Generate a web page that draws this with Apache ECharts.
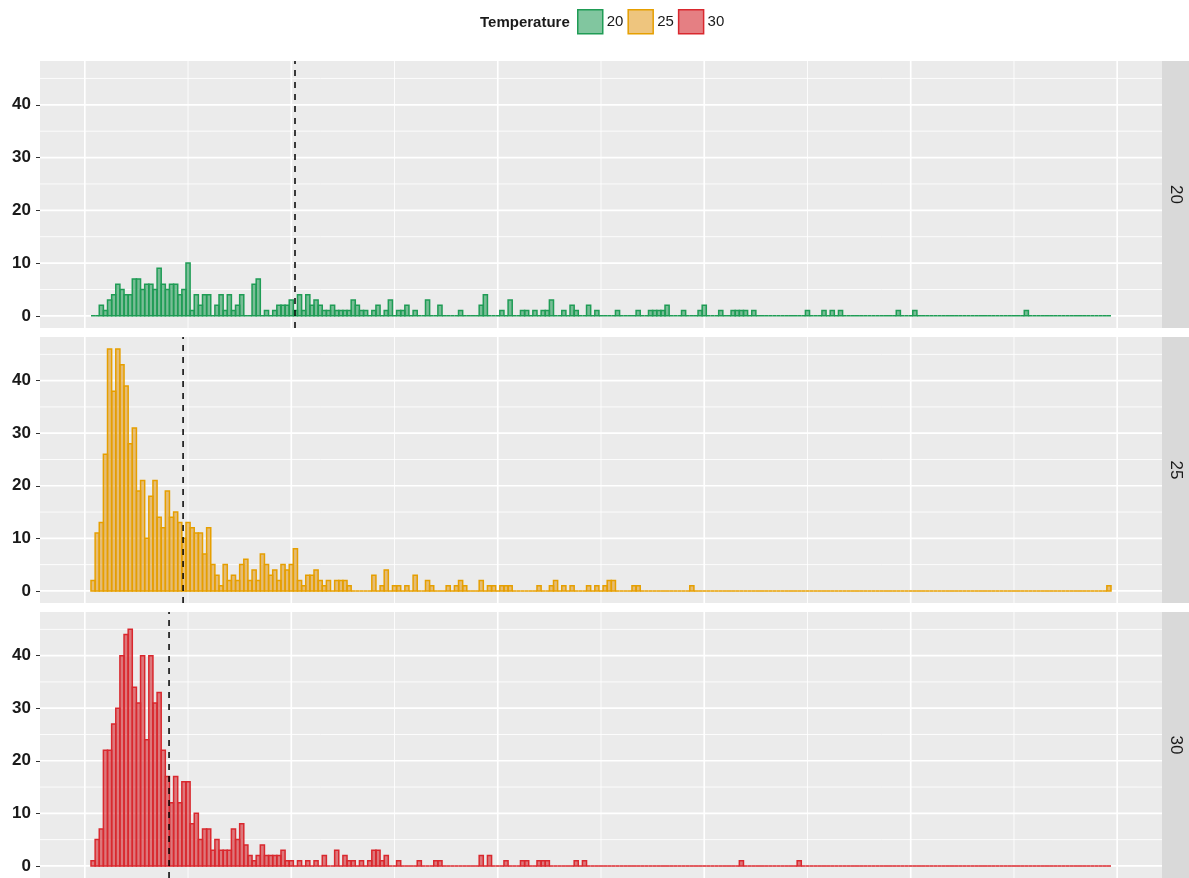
<!DOCTYPE html>
<html>
<head>
<meta charset="utf-8">
<title>Temperature histograms</title>
<script src="https://cdn.jsdelivr.net/npm/echarts@6/dist/echarts.min.js"></script>
<style>
html, body { margin: 0; padding: 0; background: #fff; }
#chart { width: 1189px; height: 878px; }
</style>
</head>
<body>
<div id="chart"></div>
<script>
// histogram bins are one unit wide, centred on firstBin .. lastBin
const firstBin = 2
const lastBin = 248
const binWidth = 1

const temperatures = ['20', '25', '30']

// counts for the busy left part, starting at bin 2
const head20 = [0, 0, 2, 1, 3, 4, 6, 5, 4, 4, 7, 7, 5, 6, 6, 5, 9, 6, 5, 6,
  6, 4, 5, 10, 1, 4, 2, 4, 4, 0, 2, 4, 1, 4, 1, 2, 4, 0, 0, 6,
  7, 0, 1, 0, 1, 2, 2, 2, 3, 1, 4, 1, 4, 2, 3, 2, 1, 1, 2, 1,
  1, 1, 1, 3, 2, 1, 1, 0, 1, 2, 0, 1, 3, 0, 1, 1, 2, 0, 1, 0,
  0, 3, 0, 0, 2, 0, 0, 0, 0, 1, 0, 0, 0, 0, 2, 4, 0, 0, 0, 1,
  0, 3, 0, 0, 1, 1, 0, 1, 0, 1, 1, 3]
const head25 = [2, 11, 13, 26, 46, 38, 46, 43, 39, 28, 31, 19, 21, 10, 18, 21, 14, 12, 19, 14,
  15, 13, 10, 13, 12, 11, 11, 7, 12, 5, 3, 1, 5, 2, 3, 2, 5, 6, 2, 4,
  2, 7, 5, 3, 4, 2, 5, 4, 5, 8, 2, 1, 3, 3, 4, 2, 1, 2, 0, 2,
  2, 2, 1, 0, 0, 0, 0, 0, 3, 0, 1, 4, 0, 1, 1, 0, 1, 0, 3, 0,
  0, 2, 1]
const head30 = [1, 5, 7, 22, 22, 27, 30, 40, 44, 45, 34, 31, 40, 24, 40, 31, 33, 22, 17, 12,
  17, 12, 16, 16, 8, 10, 5, 7, 7, 3, 5, 3, 3, 3, 7, 5, 8, 4, 2, 1,
  2, 4, 2, 2, 2, 2, 3, 1, 1, 0, 1, 0, 1, 0, 1, 0, 2, 0, 0, 3,
  0, 2, 1, 1, 0, 1, 0, 1, 3, 3, 1, 2, 0, 0, 1, 0, 0, 0, 0, 1,
  0, 0, 0, 1, 1]

// scattered bins further right: [bin, count]
const tail20 = [[116, 1], [118, 2], [119, 1], [122, 2], [124, 1], [129, 1], [134, 1], [137, 1],
  [138, 1], [139, 1], [140, 1], [141, 2], [145, 1], [149, 1], [150, 2], [154, 1], [157, 1],
  [158, 1], [159, 1], [160, 1], [162, 1], [175, 1], [179, 1], [181, 1], [183, 1], [197, 1],
  [201, 1], [228, 1]]
const tail25 = [[88, 1], [90, 1], [91, 2], [92, 1], [96, 2], [98, 1], [99, 1], [101, 1],
  [102, 1], [103, 1], [110, 1], [113, 1], [114, 2], [116, 1], [118, 1], [122, 1], [124, 1],
  [126, 1], [127, 2], [128, 2], [133, 1], [134, 1], [147, 1], [248, 1]]
const tail30 = [[96, 2], [98, 2], [102, 1], [106, 1], [107, 1], [110, 1], [111, 1], [112, 1],
  [119, 1], [121, 1], [159, 1], [173, 1]]

// dashed reference line per panel
const means = [50.9, 23.8, 20.4]

const yTicks = [0, 10, 20, 30, 40]
const yMinor = [5, 15, 25, 35, 45]
const xMajor = [0, 50, 100, 150, 200, 250]
const xMinor = [25, 75, 125, 175, 225]

const fills = ['rgba(26,152,80,0.55)', 'rgba(224,150,20,0.55)', 'rgba(212,42,48,0.6)']
const strokes = ['#1f9c55', '#e69f00', '#d9282e']

const tops = [61, 337, 612]
const heights = [267, 266, 266]

function toBins (head, tail) {
  const out = []
  for (let b = firstBin; b <= lastBin; b++) {
    const i = b - firstBin
    out.push([b, i < head.length ? head[i] : 0])
  }
  tail.forEach(([b, c]) => { out[b - firstBin][1] = c })
  return out
}
const panels = [toBins(head20, tail20), toBins(head25, tail25), toBins(head30, tail30)]

// ggplot style 5% padding on both scales
const span = (lastBin - firstBin + 1) * binWidth
const xMin = firstBin - binWidth / 2 - 0.05 * span
const xMax = lastBin + binWidth / 2 + 0.05 * span
const topCount = Math.max(...panels.flat().map(d => d[1]))
const yMin = -0.05 * topCount
const yMax = topCount * 1.05

const font = 'Liberation Sans, Arial, sans-serif'

const gridLines = []
xMajor.forEach(v => gridLines.push([v, 0, 1]))
xMinor.forEach(v => gridLines.push([v, 0, 0]))
yTicks.forEach(v => gridLines.push([v, 1, 1]))
yMinor.forEach(v => gridLines.push([v, 1, 0]))

const grid = [], xAxis = [], yAxis = [], series = [], graphic = []
temperatures.forEach((t, i) => {
  grid.push({
    left: 40, right: 27, top: tops[i], height: heights[i],
    show: true, backgroundColor: '#ebebeb', borderWidth: 0
  })
  xAxis.push({
    type: 'value', gridIndex: i, min: xMin, max: xMax,
    axisLine: { show: false, onZero: false }, axisTick: { show: false },
    axisLabel: { show: false }, splitLine: { show: false }
  })
  yAxis.push({
    type: 'value', gridIndex: i, min: yMin, max: yMax,
    axisLine: { show: false, onZero: false },
    axisTick: { show: true, customValues: yTicks, length: 4, lineStyle: { color: '#333', width: 1 } },
    axisLabel: {
      customValues: yTicks, margin: 9, fontSize: 17, fontWeight: 'bold',
      color: '#1a1a1a', fontFamily: font
    },
    splitLine: { show: false }
  })
  // white panel grid
  series.push({
    type: 'custom', xAxisIndex: i, yAxisIndex: i, z: 1, silent: true,
    data: gridLines,
    renderItem: (params, api) => {
      const v = api.value(0)
      const horiz = api.value(1) === 1
      const p0 = horiz ? api.coord([xMin, v]) : api.coord([v, yMin])
      const p1 = horiz ? api.coord([xMax, v]) : api.coord([v, yMax])
      return {
        type: 'line',
        shape: { x1: p0[0], y1: p0[1], x2: p1[0], y2: p1[1] },
        style: { stroke: '#fff', lineWidth: api.value(2) === 1 ? 1.7 : 0.85 }
      }
    }
  })
  // histogram bars
  series.push({
    type: 'custom', name: t, xAxisIndex: i, yAxisIndex: i, z: 2,
    itemStyle: { color: fills[i], borderColor: strokes[i], borderWidth: 1.4 },
    data: panels[i],
    renderItem: (params, api) => {
      const b = api.value(0)
      const lo = api.coord([b - binWidth / 2, 0])
      const hi = api.coord([b + binWidth / 2, api.value(1)])
      return {
        type: 'rect',
        shape: { x: lo[0], y: hi[1], width: hi[0] - lo[0], height: lo[1] - hi[1] },
        style: { fill: fills[i], stroke: strokes[i], lineWidth: 1.5 }
      }
    }
  })
  // dashed mean line
  series.push({
    type: 'custom', xAxisIndex: i, yAxisIndex: i, z: 3, silent: true,
    data: [[means[i], 0]],
    renderItem: (params, api) => {
      const p0 = api.coord([api.value(0), yMin])
      const p1 = api.coord([api.value(0), yMax])
      return {
        type: 'line',
        shape: { x1: p0[0], y1: p0[1], x2: p1[0], y2: p1[1] },
        style: { stroke: '#000', lineWidth: 1.5, lineDash: [6, 6] }
      }
    }
  })
  // facet strip on the right
  graphic.push({
    type: 'rect', shape: { x: 1162, y: tops[i], width: 27, height: heights[i] },
    style: { fill: '#d9d9d9' }, silent: true
  })
  graphic.push({
    type: 'text', x: 1175.5, y: tops[i] + heights[i] / 2, rotation: -Math.PI / 2,
    style: {
      text: t, fontSize: 17, fontFamily: font, fill: '#1a1a1a',
      align: 'center', verticalAlign: 'middle'
    }
  })
})

graphic.push({
  type: 'text', x: 480, y: 23,
  style: {
    text: 'Temperature', fontSize: 15, fontWeight: 'bold', fontFamily: font,
    fill: '#1a1a1a', align: 'left', verticalAlign: 'middle'
  }
})

const option = {
  animation: false,
  legend: {
    left: 577, top: 9, padding: 0, itemWidth: 25, itemHeight: 24, itemGap: 4,
    icon: 'rect', selectedMode: false,
    textStyle: { fontSize: 15, color: '#1a1a1a', fontFamily: font, padding: [2, 0, 0, -1] },
    data: temperatures.map((t, i) => ({
      name: t,
      itemStyle: { color: fills[i], borderColor: strokes[i], borderWidth: 1.5 }
    }))
  },
  grid,
  xAxis,
  yAxis,
  series,
  graphic
}

const chart = echarts.init(document.getElementById('chart'))
chart.setOption(option)
window.addEventListener('resize', function () {
  chart && chart.resize()
})
</script>
</body>
</html>
